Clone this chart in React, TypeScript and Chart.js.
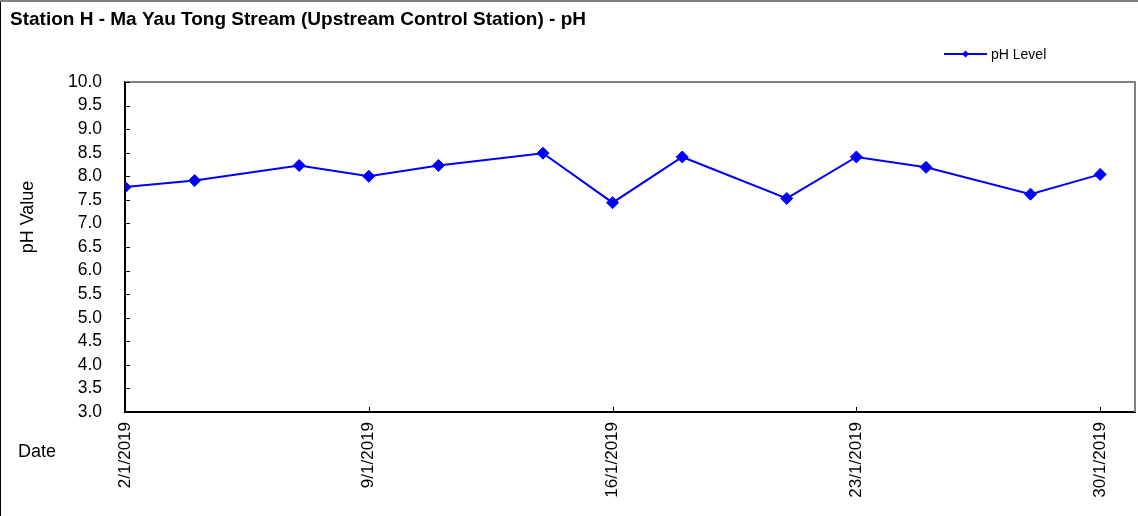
import React, { useEffect, useRef } from "react";
import { Chart, registerables } from "chart.js";

Chart.register(...registerables);

// ---- data ----
const chartTitle = "Station H - Ma Yau Tong Stream (Upstream Control Station) - pH";
const seriesLabel = "pH Level";
const yAxisTitle = "pH Value";
const xAxisTitle = "Date";
const monthYearSuffix = "/1/2019";
const sampleDays = [2, 4, 7, 9, 11, 14, 16, 18, 21, 23, 25, 28, 30];
const phValues = [7.77, 7.91, 8.23, 8.0, 8.23, 8.49, 7.44, 8.41, 7.53, 8.41, 8.19, 7.62, 8.04];
const xTickDays = [2, 9, 16, 23, 30];
const xRange = [2, 31];
const yRange = [3, 10];
const yStep = 0.5;

const FONT = "'Liberation Sans', Arial, sans-serif";
const BLUE = "#0000FF";

const decorPlugin = {
  id: "decor",
  beforeDraw(chart: any) {
    const { ctx, width, height } = chart;
    ctx.save();
    ctx.fillStyle = "#ffffff";
    ctx.fillRect(0, 0, width, height);
    ctx.restore();
  },
  afterDraw(chart: any) {
    const { ctx, chartArea } = chart;
    const xs = chart.scales.x;
    const ys = chart.scales.y;
    ctx.save();
    // outer border (left + top)
    ctx.strokeStyle = "#000000";
    ctx.lineWidth = 1;
    ctx.beginPath();
    ctx.moveTo(0.5, 0);
    ctx.lineTo(0.5, chart.height);
    ctx.stroke();
    ctx.strokeStyle = "#808080";
    ctx.lineWidth = 2;
    ctx.beginPath();
    ctx.moveTo(0, 1);
    ctx.lineTo(chart.width, 1);
    ctx.stroke();

    // plot area border top/right (gray)
    ctx.strokeStyle = "#808080";
    ctx.lineWidth = 2;
    ctx.beginPath();
    ctx.moveTo(chartArea.left, chartArea.top);
    ctx.lineTo(chartArea.right, chartArea.top);
    ctx.lineTo(chartArea.right, chartArea.bottom);
    ctx.stroke();

    // inner tick marks
    ctx.strokeStyle = "#000000";
    ctx.lineWidth = 1;
    ctx.beginPath();
    ys.ticks.forEach((t: any) => {
      const py = Math.round(ys.getPixelForValue(t.value)) + 0.5;
      ctx.moveTo(chartArea.left, py);
      ctx.lineTo(chartArea.left + 5, py);
    });
    xs.ticks.forEach((t: any) => {
      const px = Math.round(xs.getPixelForValue(t.value)) + 0.5;
      ctx.moveTo(px, chartArea.bottom);
      ctx.lineTo(px, chartArea.bottom - 5);
    });
    ctx.stroke();

    // title
    ctx.fillStyle = "#000000";
    ctx.font = `bold 19px ${FONT}`;
    ctx.textAlign = "left";
    ctx.textBaseline = "alphabetic";
    ctx.fillText(chartTitle, 10, 25);

    // legend
    const ly = 54;
    ctx.strokeStyle = BLUE;
    ctx.lineWidth = 2;
    ctx.beginPath();
    ctx.moveTo(944, ly);
    ctx.lineTo(987, ly);
    ctx.stroke();
    ctx.fillStyle = BLUE;
    ctx.beginPath();
    ctx.moveTo(965.5 - 3.5, ly);
    ctx.lineTo(965.5, ly - 3.5);
    ctx.lineTo(965.5 + 3.5, ly);
    ctx.lineTo(965.5, ly + 3.5);
    ctx.closePath();
    ctx.fill();
    ctx.fillStyle = "#000000";
    ctx.font = `14px ${FONT}`;
    ctx.textBaseline = "middle";
    ctx.fillText(seriesLabel, 991, ly + 1);

    // y axis title
    ctx.font = `18px ${FONT}`;
    ctx.save();
    ctx.translate(28, 217);
    ctx.rotate(-Math.PI / 2);
    ctx.textAlign = "center";
    ctx.textBaseline = "middle";
    ctx.fillText(yAxisTitle, 0, 0);
    ctx.restore();

    // x axis title
    ctx.textAlign = "left";
    ctx.textBaseline = "middle";
    ctx.fillText(xAxisTitle, 18, 452);
    ctx.restore();
  },
};

export default function App() {
  const canvasRef = useRef<HTMLCanvasElement | null>(null);

  useEffect(() => {
    const canvas = canvasRef.current;
    if (!canvas) return;
    const chart = new Chart(canvas, {
      type: "line",
      data: {
        datasets: [
          {
            label: seriesLabel,
            data: sampleDays.map((d, i) => ({ x: d, y: phValues[i] })),
            borderColor: BLUE,
            backgroundColor: BLUE,
            borderWidth: 2,
            pointStyle: "rectRot",
            pointRadius: 6,
            pointBorderWidth: 1,
            pointBackgroundColor: BLUE,
            pointBorderColor: BLUE,
            tension: 0,
            fill: false,
          },
        ],
      },
      options: {
        responsive: false,
        animation: false,
        devicePixelRatio: 1,
        layout: { autoPadding: false, padding: { top: 82, right: 3, left: 0, bottom: 0 } },
        plugins: {
          legend: { display: false },
          title: { display: false },
          tooltip: { enabled: false },
        },
        scales: {
          x: {
            type: "linear",
            min: xRange[0],
            max: xRange[1],
            afterBuildTicks: (s: any) => {
              s.ticks = xTickDays.map((v) => ({ value: v }));
            },
            afterFit: (s: any) => {
              s.height = 104;
              s.paddingLeft = 0;
              s.paddingRight = 0;
            },
            grid: { display: false, drawTicks: false },
            border: { display: true, color: "#000000", width: 2 },
            ticks: {
              autoSkip: false,
              maxRotation: 90,
              minRotation: 90,
              padding: 10,
              color: "#000000",
              font: { family: FONT, size: 17 },
              callback: (v: any) => `${v}${monthYearSuffix}`,
            },
          },
          y: {
            type: "linear",
            min: yRange[0],
            max: yRange[1],
            afterFit: (s: any) => {
              s.width = 125;
              s.paddingTop = 0;
              s.paddingBottom = 0;
            },
            grid: { display: false, drawTicks: false },
            border: { display: true, color: "#000000", width: 2 },
            ticks: {
              stepSize: yStep,
              autoSkip: false,
              padding: 23,
              color: "#000000",
              font: { family: FONT, size: 17.5 },
              callback: (v: any) => Number(v).toFixed(1),
            },
          },
        },
      },
      plugins: [decorPlugin],
    });
    return () => chart.destroy();
  }, []);

  return (
    <div
      style={{
        position: "fixed",
        left: 0,
        top: 0,
        width: 1138,
        height: 516,
        background: "#ffffff",
      }}
    >
      <canvas ref={canvasRef} width={1138} height={516} style={{ display: "block" }} />
    </div>
  );
}
